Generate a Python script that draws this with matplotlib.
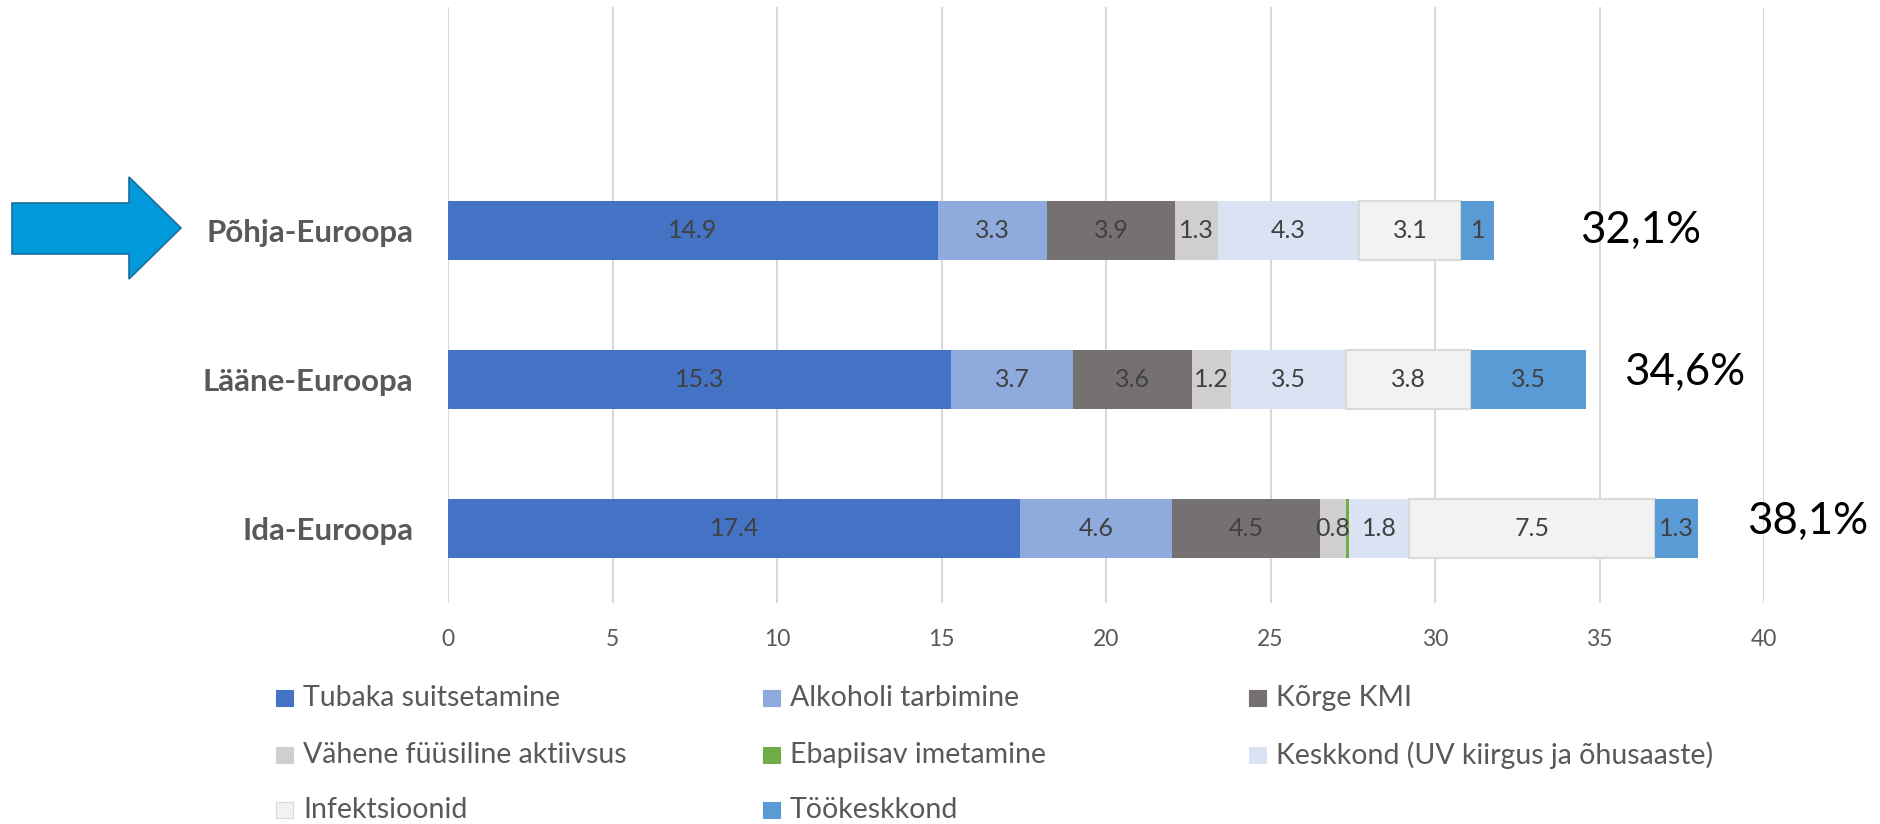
import matplotlib
matplotlib.use("Agg")
from matplotlib import pyplot as plt
from matplotlib.patches import Rectangle, Polygon

plt.rcParams['font.family'] = ['Lato', 'DejaVu Sans']

# andmed
regions = ['Põhja-Euroopa', 'Lääne-Euroopa', 'Ida-Euroopa']
series = ['Tubaka suitsetamine', 'Alkoholi tarbimine', 'Kõrge KMI',
          'Vähene füüsiline aktiivsus', 'Ebapiisav imetamine',
          'Keskkond (UV kiirgus ja õhusaaste)', 'Infektsioonid', 'Töökeskkond']
tubakas = [14.9, 15.3, 17.4]
alkohol = [3.3, 3.7, 4.6]
kmi = [3.9, 3.6, 4.5]
fyysiline = [1.3, 1.2, 0.8]
imetamine = [0.0, 0.0, 0.1]
keskkond = [4.3, 3.5, 1.8]
infektsioonid = [3.1, 3.8, 7.5]
tookeskkond = [1.0, 3.5, 1.3]
totals = ['32,1%', '34,6%', '38,1%']

values = [tubakas, alkohol, kmi, fyysiline, imetamine, keskkond, infektsioonid, tookeskkond]
colors = ['#4472C4', '#8FAADC', '#767171', '#D0CECE', '#70AD47', '#DAE3F3', '#F2F2F2', '#5B9BD5']
edges = [None, None, None, None, None, None, '#DADADA', None]
show_label = [True, True, True, True, False, True, True, True]

W, H = 1880, 824
fig = plt.figure(figsize=(W / 100, H / 100), dpi=100)
ax = fig.add_axes([448 / W, 1 - 603 / H, (1764 - 448) / W, (603 - 7) / H])

y = list(range(len(regions)))
left = [0.0] * len(regions)
for vals, col, ec, lab in zip(values, colors, edges, show_label):
    bars = ax.barh(y, vals, left=left, height=0.4, color=col,
                   edgecolor=ec if ec else col, linewidth=1.5 if ec else 0, zorder=3)
    if lab:
        for b, v in zip(bars, vals):
            if v > 0:
                ax.text(b.get_x() + b.get_width() / 2, b.get_y() + b.get_height() / 2,
                        f'{v:g}', ha='center', va='center', fontsize=18,
                        color='#404040', zorder=4)
    left = [l + v for l, v in zip(left, vals)]

# kogusummad paremal
total_x = [34.4, 35.75, 39.5]
total_dy = [0.0, -0.05, -0.05]
for i, t in enumerate(totals):
    ax.text(total_x[i], i + total_dy[i], t, ha='left', va='center',
            fontsize=31.5, color='black', clip_on=False)

ax.set_xlim(0, 40)
ax.set_ylim(2.5, -1.5)
ax.set_xticks(range(0, 41, 5))
ax.set_yticks(y)
ax.set_yticklabels(regions, fontsize=22.5, fontweight='bold', color='#595959')
ax.tick_params(axis='x', length=0, pad=19, labelsize=16.5, labelcolor='#595959')
ax.tick_params(axis='y', length=0, pad=25)
ax.grid(axis='x', color='#D9D9D9', linewidth=1.5, zorder=0)
for s in ax.spines.values():
    s.set_visible(False)

# nool
pts = [(12, 203), (129, 203), (129, 177), (181, 228), (129, 279), (129, 254), (12, 254)]
fig.add_artist(Polygon([(px / W, 1 - py / H) for px, py in pts], closed=True,
                       facecolor='#009ADA', edgecolor='#1B6C9C', linewidth=1.2,
                       transform=fig.transFigure))

# legend, read kaupa nagu Excelis
col_x = [276, 763, 1249]
row_y = [698, 755, 810]
for i, (name, col) in enumerate(zip(series, colors)):
    cx = col_x[i % 3]
    cy = row_y[i // 3]
    fig.add_artist(Rectangle((cx / W, 1 - (cy + 8) / H), 17 / W, 16 / H,
                             facecolor=col, edgecolor='#DADADA' if edges[i] else col,
                             linewidth=0.8, transform=fig.transFigure))
    fig.text((cx + 27) / W, 1 - cy / H, name, ha='left', va='center',
             fontsize=20.5, color='#595959')

plt.savefig('out.png', dpi=100)
